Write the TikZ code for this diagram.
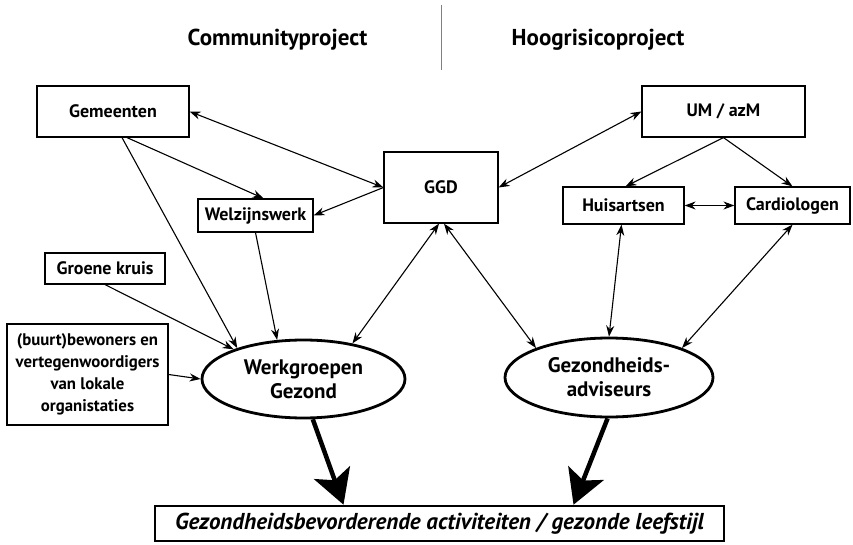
\documentclass[tikz,border=0pt]{standalone}
\usepackage{fontspec}
\setmainfont{PT Sans}
\usetikzlibrary{shapes.geometric,arrows.meta}

\begin{document}
\begin{tikzpicture}[x=1pt,y=-1pt,
	box/.style={rectangle,draw,line width=1.2pt,inner sep=0pt,align=center,font=\fontsize{18}{22}\selectfont\bfseries},
	oval/.style={ellipse,draw,line width=2.8pt,inner sep=0pt,align=center,font=\fontsize{21}{24}\selectfont\bfseries},
	link/.style={line width=1.1pt,-{Stealth[length=11pt,width=8pt]}},
	both/.style={line width=1.1pt,{Stealth[length=11pt,width=8pt]}-{Stealth[length=11pt,width=8pt]}},
	heavy/.style={line width=4.5pt,-{Stealth[length=34pt,width=38pt,inset=8pt]}}]
				\useasboundingbox (0,0) rectangle (853,545);
				\path 
				(277.5,40) node(comm) [font=\fontsize{23}{26}\selectfont\bfseries] {Communityproject}
				(598,40) node(hoog) [font=\fontsize{23}{26}\selectfont\bfseries] {Hoogrisicoproject}
				(441,5) coordinate(top)
				(441,70) coordinate(bot)
				(113,111.5) node(gem) [box,minimum width=152,minimum height=51] {Gemeenten}
				(723.5,111.5) node(um) [box,minimum width=163,minimum height=51] {UM / azM}
				(441,187.5) node(ggd) [box,minimum width=114,minimum height=71] {GGD}
				(255.5,215.5) node(welz) [box,minimum width=115,minimum height=33] {Welzijnswerk}
				(623.5,205.5) node(huis) [box,minimum width=121,minimum height=37] {Huisartsen}
				(792.5,205.5) node(card) [box,minimum width=115,minimum height=37] {Cardiologen}
				(105,268.5) node(groen) [box,minimum width=120,minimum height=31] {Groene kruis}
				(87.5,374.5) node(bew) [box,minimum width=161,minimum height=101,font=\fontsize{16.8}{22}\selectfont\bfseries] {(buurt)bewoners en\\vertegenwoordigers\\van lokale\\organistaties}
				(303.5,379) node(werk) [oval,minimum width=203,minimum height=78] {Werkgroepen\\Gezond}
				(609,377.5) node(gez) [oval,minimum width=208,minimum height=79] {Gezondheids-\\adviseurs}
				(439.5,523.5) node(act) [box,line width=2.6pt,minimum width=569,minimum height=35,font=\fontsize{23}{26}\selectfont\bfseries\itshape] {Gezondheidsbevorderende activiteiten / gezonde leefstijl};
				\draw[gray,line width=0.6pt] (top) -- (bot);
				\draw   
				(gem.east) edge[both] (ggd.west)
				([xshift=14pt]gem.south) edge[link] ([xshift=8pt]welz.north)
				([xshift=9pt]gem.south) edge[link] (werk.155)
				(ggd.west) edge[link] (welz.east)
				(welz.south) edge[link] (werk.124)
				(groen.south) edge[link] (werk.157)
				(bew.east) edge[link] (werk.west)
				([xshift=-2pt]ggd.south) edge[both] (werk.36)
				([xshift=3pt]ggd.south) edge[both] (gez.158)
				(um.west) edge[both] (ggd.east)
				(um.south) edge[link] ([xshift=2pt]huis.north)
				(um.south) edge[link] (card.north)
				(huis.east) edge[both] (card.west)
				([xshift=-2pt]huis.south) edge[both] (gez.north)
				(card.south) edge[both] (gez.22)
				(werk.-77) edge[heavy] ([xshift=-96pt]act.north)
				(gez.-92) edge[heavy] ([xshift=134pt]act.north);
			\end{tikzpicture}
\end{document}
